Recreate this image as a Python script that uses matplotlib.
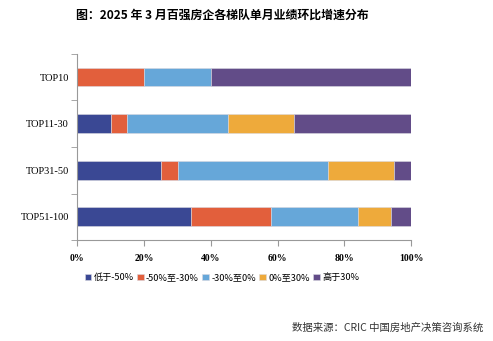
import numpy as np
import matplotlib
matplotlib.use('Agg')
import matplotlib.pyplot as plt

plt.rcParams['font.family'] = ['Noto Sans CJK SC', 'DejaVu Sans']

# Data (percent of companies in each tier)
tiers = ['TOP10', 'TOP11-30', 'TOP31-50', 'TOP51-100']
series = ['低于-50%', '-50%至-30%', '-30%至0%', '0%至30%', '高于30%']
below_m50 = [0, 10, 25, 34]
m50_m30 = [20, 5, 5, 24]
m30_0 = [20, 30, 45, 26]
p0_30 = [0, 20, 20, 10]
above_30 = [60, 35, 5, 6]
values = [below_m50, m50_m30, m30_0, p0_30, above_30]
colors = ['#3A4894', '#E25F3C', '#66A7D9', '#EEAA3B', '#624C88']

fig = plt.figure(figsize=(4.93, 3.41), dpi=100)
ax = fig.add_axes([0.157, 0.296, 0.677, 0.546])

y = np.arange(len(tiers))
left = np.zeros(len(tiers))
for name, vals, c in zip(series, values, colors):
    ax.barh(y, vals, left=left, height=0.4, color=c, label=name,
            edgecolor='#d8d8e0', linewidth=0.4)
    left += np.array(vals)

ax.set_xlim(0, 100)
ax.set_ylim(3.5, -0.5)
ax.set_yticks(y)
ax.set_yticklabels(tiers, family='Liberation Serif', fontsize=7.5)
ax.set_yticks(np.arange(-0.5, 4, 1), minor=True)
ax.tick_params(axis='y', which='major', length=0, pad=6)
ax.tick_params(axis='y', which='minor', length=4, color='#999999', direction='out')
ax.set_xticks([0, 20, 40, 60, 80, 100])
ax.set_xticklabels(['0%', '20%', '40%', '60%', '80%', '100%'], fontsize=7, fontweight='bold',
                   family='Liberation Serif')
ax.tick_params(axis='x', length=4, color='#999999', direction='out', pad=6)

for s in ['top', 'right']:
    ax.spines[s].set_visible(False)
for s in ['left', 'bottom']:
    ax.spines[s].set_color('#999999')
    ax.spines[s].set_linewidth(0.8)

fig.text(0.45, 0.955, '图：2025 年 3 月百强房企各梯队单月业绩环比增速分布',
         ha='center', va='center', fontsize=8.6, fontweight='bold')

fig.legend(loc='center', bbox_to_anchor=(0.45, 0.185), ncol=5, frameon=False,
           fontsize=6.6, handlelength=0.7, handleheight=0.7, handletextpad=0.25,
           columnspacing=0.4)

fig.text(0.98, 0.04, '数据来源：CRIC 中国房地产决策咨询系统', ha='right', va='center',
         fontsize=7.5, color='#333333')

fig.savefig('out.png', dpi=100)
